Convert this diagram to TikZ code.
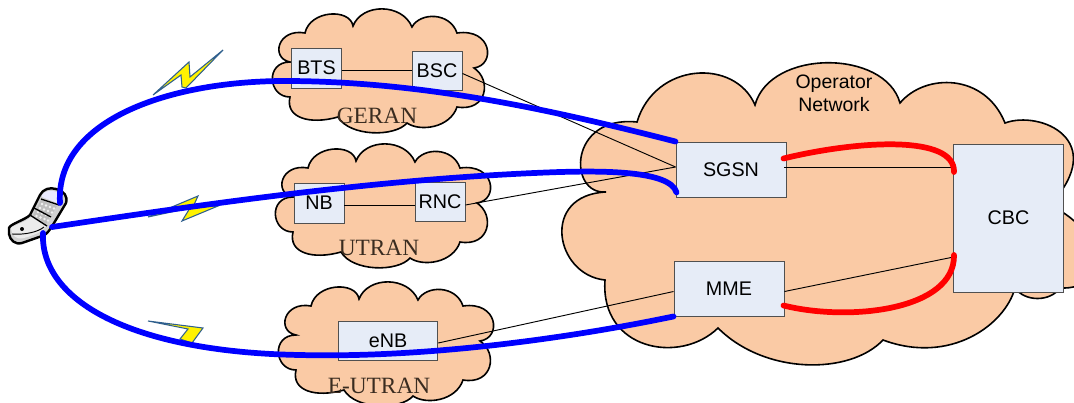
\documentclass[tikz,border=0pt]{standalone}
\usepackage{fontspec}
\setmainfont{Liberation Sans}
\newfontfamily\labelserif{Liberation Serif}
\usetikzlibrary{calc}
\definecolor{cloudfill}{HTML}{FACAA5}
\definecolor{boxfill}{HTML}{E6ECF7}
\definecolor{boxedge}{HTML}{505050}
\definecolor{bolt}{HTML}{2F5F8F}
\definecolor{serifink}{HTML}{3A2C20}
\tikzset{
  px/.style={x=0.75pt,y=-0.75pt},
  cloudshape/.style={draw=black,fill=cloudfill,line width=1.2pt,line join=miter},
  netbox/.style={draw=boxedge,fill=boxfill,line width=0.7pt,inner sep=0pt,font=\fontsize{14.8pt}{16pt}\selectfont},
  thinlink/.style={draw=black,line width=0.7pt},
  bluelink/.style={draw=blue,line width=4.3pt,line cap=round},
  redlink/.style={draw=red,line width=4.3pt,line cap=round},
  boltshape/.style={draw=bolt,fill=yellow,line width=0.8pt,line join=miter},
  netname/.style={font=\fontsize{17.5pt}{20pt}\selectfont\labelserif,text=serifink,inner sep=0pt},
  plainlabel/.style={font=\fontsize{14.6pt}{16pt}\selectfont,inner sep=0pt,align=center},
}
\newcommand{\smallcloudpath}{
  (305,33) .. controls (310,10) and (350,8) .. (353,26)
  .. controls (362,3) and (402,3) .. (412,27)
  .. controls (420,12) and (450,12) .. (457,33)
  .. controls (492,28) and (496,65) .. (474,68)
  .. controls (492,80) and (487,112) .. (457,107)
  .. controls (450,128) and (420,132) .. (407,123)
  .. controls (395,137) and (350,137) .. (338,117)
  .. controls (310,125) and (285,118) .. (290,97)
  .. controls (268,97) and (265,62) .. (290,62)
  .. controls (270,58) and (278,28) .. (305,33) -- cycle
}
\begin{document}
\begin{tikzpicture}[px]
\useasboundingbox (0,0) rectangle (1074,403);
\clip (0,0) rectangle (1074,403);
% clouds
\path[cloudshape] \smallcloudpath;
\begin{scope}[shift={(3,135)}]
\path[cloudshape] \smallcloudpath;
\end{scope}
\begin{scope}[shift={(6,273)}]
\path[cloudshape] \smallcloudpath;
\end{scope}
\path[cloudshape]
  (755,105) .. controls (770,49) and (885,49) .. (900,103)
  .. controls (925,73) and (985,73) .. (1005,123)
  .. controls (1040,110) and (1110,140) .. (1050,205)
  .. controls (1110,235) and (1110,290) .. (1060,288)
  .. controls (1050,302) and (1025,302) .. (1015,288)
  .. controls (1005,325) and (950,365) .. (883,340)
  .. controls (850,375) and (765,375) .. (718,328)
  .. controls (680,365) and (600,350) .. (605,280)
  .. controls (555,275) and (540,195) .. (606,192)
  .. controls (568,195) and (568,115) .. (637,122)
  .. controls (655,62) and (735,58) .. (755,105) -- cycle;
% boxes
\node[netbox,minimum width=37.5pt,minimum height=30pt] (bts) at (316.5,68) {BTS};
\node[netbox,minimum width=37.5pt,minimum height=29.25pt] (bsc) at (437,70.5) {BSC};
\node[netbox,minimum width=37.5pt,minimum height=30pt] (nb) at (319,203) {NB};
\node[netbox,minimum width=37.5pt,minimum height=29.25pt] (rnc) at (440,201.5) {RNC};
\node[netbox,minimum width=74.6pt,minimum height=29.25pt] (enb) at (388,340.5) {eNB};
\node[netbox,minimum width=82.5pt,minimum height=41.25pt] (sgsn) at (731,169.5) {SGSN};
\node[netbox,minimum width=82.5pt,minimum height=41.25pt] (mme) at (729,288.5) {MME};
\node[netbox,minimum width=82.2pt,minimum height=111pt] (cbc) at (1008.5,218) {CBC};
% labels
\node[plainlabel] (operator) at (834,93.5) {Operator\\[1.2pt]Network};
\node[netname] (geran) at (377,116) {GERAN};
\node[netname] (utran) at (379,248) {UTRAN};
\node[netname] (eutran) at (379,386) {E-UTRAN};
% anchors on boxes
\coordinate (bscout) at ($(bsc.east)+(0,3)$);
\coordinate (sgsnin) at ($(sgsn.west)+(0,-2.5)$);
\coordinate (cbclower) at ($(cbc.south west)+(-2,-35)$);
\coordinate (mmeleft) at ($(mme.west)+(0,3)$);
\coordinate (mmeright) at ($(mme.east)+(0,3)$);
% thin links
\draw[thinlink] (bts.east |- 0,70) -- (bsc.west |- 0,70);
\draw[thinlink] (nb.east |- 0,205) -- (rnc.west |- 0,205);
\draw[thinlink] (bscout) -- (sgsnin);
\draw[thinlink] (rnc.east |- 0,205) -- (sgsnin);
\draw[thinlink] ($(sgsn.east)+(-2,-2.5)$) -- (cbc.west |- 0,167);
\draw[thinlink] (mmeright) -- (cbclower);
\draw[thinlink] ($(enb.east)+(0,2.5)$) -- (mmeleft);
% lightning
\path[boltshape] (153,95) -- (189,62) -- (190,77) -- (223,50) -- (186,88) -- (182,87) -- (181,75) -- cycle;
\path[boltshape] (148,217) -- (198,196) -- (193,207) -- (218,206) -- (182,221) -- (190,208) -- cycle;
\path[boltshape] (148,321) -- (203,328) -- (192,343) -- (180,339) -- (188,329) -- cycle;
% phone
\coordinate (phone) at (38,215);
\path[draw=black,line width=1.8pt,fill=gray!35,line join=round]
  (9,228) .. controls (10,224) and (25,220) .. (30,215)
  -- (40,195) .. controls (43,189) and (50,187) .. (56,189)
  .. controls (64,191) and (68,196) .. (66,203)
  -- (51,228) .. controls (48,232) and (46,235) .. (42,236)
  -- (22,243) .. controls (15,245) and (10,240) .. (9,234) -- cycle;
\path[fill=gray!15] (11,228) .. controls (12,226) and (26,222) .. (31,217) -- (46,226) .. controls (44,231) and (35,235) .. (24,238) .. controls (16,240) and (12,236) .. (11,228) -- cycle;
\path[fill=blue!8] (42,195) .. controls (45,190) and (52,190) .. (57,192) .. controls (62,194) and (63,198) .. (60,204) -- (42,197) -- cycle;
\path[fill=gray!50] (41,200) -- (57,206) -- (46,224) -- (33,215) -- cycle;
\foreach \a/\b in {42/204,46/205.5,50/207,54/208.5,40/208,44/209.5,48/211,52/212.5,38/212,42/213.5,46/215,50/216.5,36.5/216,40.5/217.5,44.5/219,48/220.5}
  \fill[white!90!gray] (\a,\b) circle (1pt);
\draw[black,line width=1pt] (30,215) -- (47,226) (34,208) -- (51,217) (41,199) -- (59,205);
\draw[black,line width=0.7pt] (12,234) .. controls (25,235) and (38,232) .. (44,227);
\fill[black] (22,229) circle (1.5pt);
% blue links
\coordinate (phonetop) at (60,203);
\coordinate (phonemid) at (52,227);
\coordinate (phonelow) at (43,233);
\coordinate (sgsntop) at (sgsn.north west);
\coordinate (sgsnlow) at ($(sgsn.south west)+(1,-5)$);
\coordinate (mmelow) at (mme.south west);
\draw[bluelink] (phonetop) .. controls (55,120) and (170,80) .. (290,81) .. controls (430,82) and (560,112) .. (sgsntop);
\draw[bluelink] (phonemid) .. controls (200,205) and (380,178) .. (560,172) .. controls (600,171) and (670,170) .. (sgsnlow);
\draw[bluelink] (phonelow) .. controls (40,300) and (130,352) .. (300,355) .. controls (420,358) and (560,340) .. (mmelow);
% red links
\coordinate (sgsnred) at ($(sgsn.east)+(-3,-11)$);
\coordinate (cbcredtop) at (954,172);
\coordinate (mmered) at ($(mme.east)+(-1,17)$);
\coordinate (cbcredlow) at (954,255);
\draw[redlink] (sgsnred) .. controls (860,140) and (955,135) .. (cbcredtop);
\draw[redlink] (mmered) .. controls (850,322) and (955,310) .. (cbcredlow);
\end{tikzpicture}
\end{document}
